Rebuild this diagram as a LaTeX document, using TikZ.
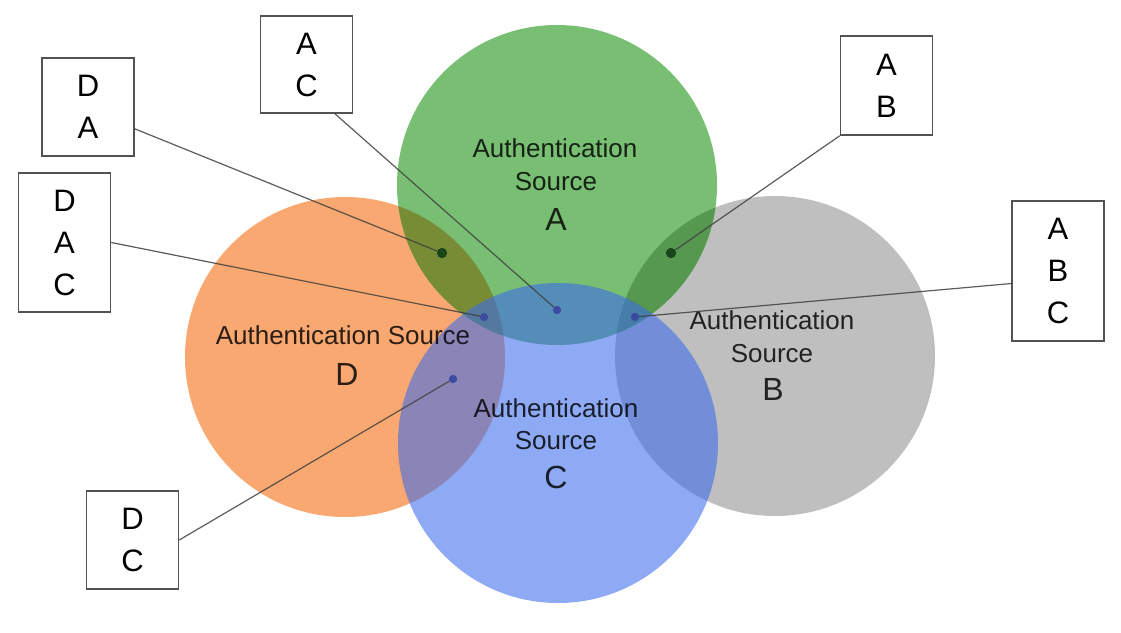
\documentclass[tikz,border=0pt]{standalone}
\usepackage{fontspec}
\setmainfont{Liberation Sans}
\definecolor{cA}{RGB}{120,190,115}
\definecolor{cB}{RGB}{191,191,191}
\definecolor{cC}{RGB}{58,106,237}
\definecolor{cD}{RGB}{248,168,112}
\definecolor{cAD}{RGB}{120,140,54}
\definecolor{cAB}{RGB}{86,152,80}
\definecolor{dgreen}{RGB}{25,70,25}
\definecolor{dblue}{RGB}{60,75,160}
\begin{document}
\begin{tikzpicture}[x=1pt,y=-1pt,
  lbl/.style={font=\fontsize{26}{33}\selectfont, anchor=base, text=black, text opacity=0.82, inner sep=0pt},
  biglbl/.style={font=\fontsize{32}{40}\selectfont, anchor=base, text=black, text opacity=0.82, inner sep=0pt},
  box/.style={draw=black!68, line width=1.5pt, fill=white, minimum width=92pt, align=center,
    font=\fontsize{31}{42}\selectfont, inner sep=0pt},
  conn/.style={draw=black!75, draw opacity=0.85, line width=1.2pt},
  gdot/.style={circle, fill=dgreen, inner sep=0pt, minimum size=10pt},
  bdot/.style={circle, fill=dblue, inner sep=0pt, minimum size=8pt}]

\useasboundingbox (0,0) rectangle (1121,632);
\fill[white] (0,0) rectangle (1121,632);

% circles
\fill[cD] (345,357) circle[radius=160pt];
\fill[cB] (775,356) circle[radius=160pt];
\fill[cA] (557,185) circle[radius=160pt];
\begin{scope}
\clip (345,357) circle[radius=160pt];
\fill[cAD] (557,185) circle[radius=160pt];
\end{scope}
\begin{scope}
\clip (775,356) circle[radius=160pt];
\fill[cAB] (557,185) circle[radius=160pt];
\end{scope}
\fill[cC, fill opacity=0.57] (558,443) circle[radius=160pt];

% circle labels
\node[lbl] (tA1) at (555,157) {Authentication};
\node[lbl] (tA2) at (556,190) {Source};
\node[biglbl] (tA3) at (556,230) {A};

\node[lbl] (tD1) at (343,344) {Authentication Source};
\node[biglbl] (tD2) at (347,385) {D};

\node[lbl] (tB1) at (772,329) {Authentication};
\node[lbl] (tB2) at (772,362) {Source};
\node[biglbl] (tB3) at (773,400) {B};

\node[lbl] (tC1) at (556,417) {Authentication};
\node[lbl] (tC2) at (556,449) {Source};
\node[biglbl] (tC3) at (556,488) {C};

% boxes
\node[box, minimum height=97pt] (AC) at (306.5,64.5) {A\\C};
\node[box, minimum height=98pt] (DA) at (88,107) {D\\A};
\node[box, minimum height=139pt] (DAC) at (64.5,242.5) {D\\A\\C};
\node[box, minimum height=99pt] (AB) at (886.5,85.5) {A\\B};
\node[box, minimum height=140pt] (ABC) at (1058,271) {A\\B\\C};
\node[box, minimum height=98pt] (DC) at (132.5,540) {D\\C};

% dots
\node[gdot] (dDA) at (442,253) {};
\node[gdot] (dAB) at (671,253) {};
\node[bdot] (dAC) at (557,310) {};
\node[bdot] (dDAC) at (484,317) {};
\node[bdot] (dABC) at (635,317) {};
\node[bdot] (dDC) at (453,379) {};

% connectors
\draw[conn] (DA.-25) -- (dDA);
\draw[conn] (AC.-60) -- (dAC);
\draw[conn] (DAC.east) -- (dDAC);
\draw[conn] (AB.south west) -- (dAB);
\draw[conn] (ABC.195) -- (dABC);
\draw[conn] (DC.east) -- (dDC);

% redraw dots on top of lines
\node[gdot] at (dDA) {};
\node[gdot] at (dAB) {};
\node[bdot] at (dAC) {};
\node[bdot] at (dDAC) {};
\node[bdot] at (dABC) {};
\node[bdot] at (dDC) {};
\end{tikzpicture}
\end{document}
